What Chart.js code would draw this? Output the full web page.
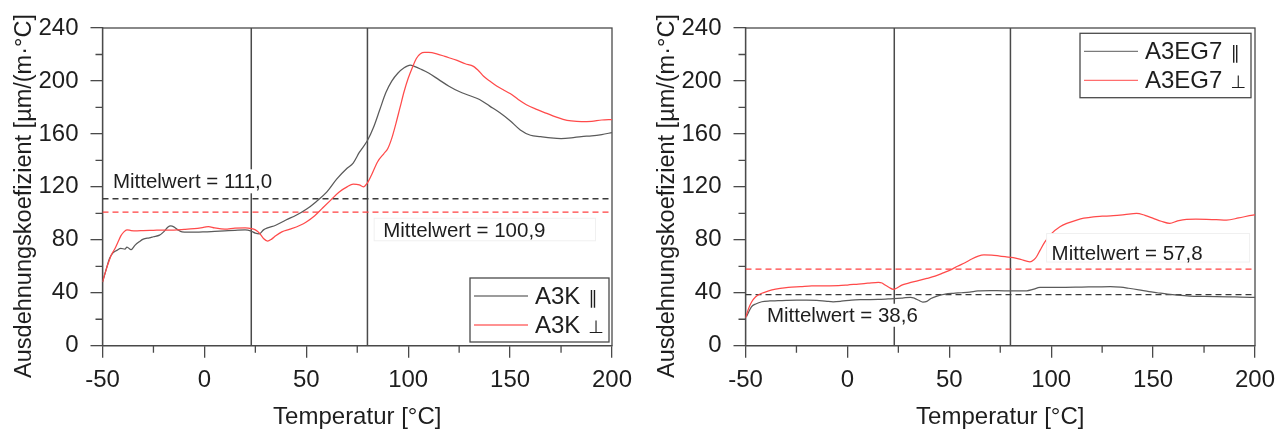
<!DOCTYPE html>
<html>
<head>
<meta charset="utf-8">
<script src="https://cdn.jsdelivr.net/npm/chart.js@4.4.1/dist/chart.umd.min.js"></script>
<style>
  html, body { margin: 0; padding: 0; background: #fff; }
  #wrap { position: relative; width: 1286px; height: 432px; overflow: hidden; }
  canvas { position: absolute; top: 0; }
  #cA3K { left: 0; }
  #cA3EG7 { left: 643px; }
</style>
</head>
<body>
<div id="wrap">
  <canvas id="cA3K" width="643" height="432"></canvas>
  <canvas id="cA3EG7" width="643" height="432"></canvas>
</div>
<script>
// Axis ticks (temperature in °C, expansion coefficient in µm/(m·°C))
const xTicks = [-50, 0, 50, 100, 150, 200];
const xMinorTicks = [-25, 25, 75, 125, 175];
const yTicks = [0, 40, 80, 120, 160, 200, 240];
const yMinorTicks = [20, 60, 100, 140, 180, 220];

// Temperature bounds of the averaging interval
const intervalBounds = [23, 80];

// A3K, parallel
const tA3KPar = [-50, -48.5, -46.5, -45, -43, -41, -39, -38, -36, -34, -32, -30, -27, -25, -22, -20, -18, -16.5, -15, -13, -11, -8, -4, 0, 5, 10, 15, 20, 23, 25, 27, 29, 31, 35, 40, 45, 50, 55, 60, 65, 70, 73, 76, 80, 83, 86, 89, 92, 95, 98, 101, 103, 106, 110, 115, 120, 125, 130, 135, 140, 145, 150, 155, 160, 165, 170, 175, 180, 185, 190, 195, 200];
const a3kPar = [48, 56, 66, 70, 72, 73.5, 73, 74.5, 72.5, 76, 78.5, 80.5, 81.5, 82.3, 83.5, 86, 89.5, 90.5, 89.8, 87.5, 86, 85.8, 85.8, 86, 86.4, 86.8, 87.2, 87.5, 86.5, 85, 84.5, 87.5, 89, 91, 95, 98.5, 103, 109, 116, 126, 134, 138, 146, 155, 165, 178, 191, 200, 206, 210, 212, 211, 209, 206, 201, 196, 192, 189, 186, 181, 176, 170, 163, 159, 158, 157, 156.5, 157, 158, 158.5, 159.5, 161];

// A3K, perpendicular
const tA3KPerp = [-50, -48.5, -47, -45.5, -44, -42.5, -41, -39.5, -38, -36, -33, -30, -25, -20, -15, -10, -5, 0, 2, 5, 10, 15, 20, 23, 25, 27, 29, 31, 33, 35, 38, 42, 47, 50, 54, 58, 62, 66, 70, 73, 76, 78, 80, 82, 85, 88, 90, 92, 94, 96, 98, 100, 102, 104, 106, 108, 110, 114, 118, 124, 128, 132, 135, 137, 140, 143.6, 147, 150, 154, 158, 163, 168, 172, 176, 180, 185, 190, 195, 200];
const a3kPerp = [48, 56, 63, 69, 73, 78, 83, 86, 87.5, 87, 86.8, 87, 87.2, 87.4, 87.4, 87.8, 88.4, 89.5, 90, 89, 88, 88.8, 89, 88.5, 87.5, 85, 81, 79, 80.5, 83, 86, 88, 91, 93.5, 98, 104, 110, 116, 120, 122, 121.5, 120, 123, 129, 139, 145, 149, 157, 168, 180, 192, 202, 210, 217, 220.5, 221.5, 221.5, 220.5, 218.5, 215.5, 213, 211, 207, 203.5, 200, 196, 193, 190.5, 186, 182, 178.5, 175.5, 173, 171, 169.8, 169.2, 169.5, 170.5, 170.8];

// A3EG7, parallel
const tA3EG7Par = [-49.5, -47, -45, -42, -38, -34, -30, -25, -20, -15, -10, -7, -3, 2, 8, 15, 20, 23, 27, 31, 33, 35, 37, 39, 41, 44, 48, 52, 56, 60, 64, 70, 77, 84, 88, 91, 94.5, 100, 107, 115, 122, 129, 134, 138, 143, 148, 152, 157, 162, 168, 175, 181, 190, 199, 200];
const a3eg7Par = [22, 29.5, 31.5, 33.2, 33.8, 34, 34.3, 34.5, 34.5, 34.3, 33.5, 33.2, 33.6, 34.5, 34.8, 35, 35.3, 35.5, 36, 36.6, 35.8, 34.3, 33, 33.5, 35.6, 37.5, 39, 39.6, 40, 40.5, 41.4, 41.6, 41.5, 41.5, 41.5, 42.5, 44, 44.1, 44.1, 44.3, 44.4, 44.6, 44.2, 43.4, 42.2, 40.8, 40, 39, 38.2, 37.5, 37.2, 37, 36.8, 36.6, 36.6];

// A3EG7, perpendicular
const tA3EG7Perp = [-50, -48.5, -47, -45, -42, -39, -37, -33, -29, -23, -17.5, -10, -4.4, 0, 5.4, 10, 15.2, 17, 18.5, 20.5, 22.5, 24.5, 26.7, 30, 34.8, 39, 43, 47, 51.2, 54, 57.7, 61, 64.2, 67, 70.8, 74.8, 77.3, 81.4, 85, 89.6, 91.5, 92.8, 94.5, 96.9, 100, 104.3, 108, 112.5, 116, 120.7, 125, 130.5, 136, 141.9, 146, 150.1, 154, 158.2, 162, 166.4, 171, 176.2, 181, 186, 192, 199, 200];
const a3eg7Perp = [21, 28, 33, 37, 39.6, 41.2, 42.1, 43.3, 44.1, 44.6, 45.1, 45.2, 45.3, 45.8, 46.6, 47.2, 47.9, 47.4, 45.8, 44, 42.6, 43.8, 45.8, 47.3, 49.1, 50.8, 52.6, 55, 57.7, 60, 62.7, 65.5, 67.7, 68.6, 68.5, 67.7, 67.2, 66.5, 65.2, 63.4, 65, 67.2, 72, 78.5, 84.5, 89.9, 92.6, 94.9, 96.3, 97.4, 97.8, 98.2, 99, 100, 98.5, 96.2, 94, 92.4, 94.3, 95.5, 95.6, 95.5, 95.3, 94.9, 96.5, 98.7, 98.8];

// Mean values over the interval [parallel, perpendicular]
const meanA3K = [111.0, 100.9];
const meanA3EG7 = [38.6, 57.8];

// Series names
const namesA3K = ['A3K', 'A3K'];
const namesA3EG7 = ['A3EG7', 'A3EG7'];
const orientationMarks = ['\u2225', '\u22A5'];

const FONT = '"Liberation Sans", Arial, Helvetica, sans-serif';
const GRAY = '#5a5a5a';
const RED = '#ff4a4a';
const AXIS = '#4a4a4a';
const TEXT = '#1e1e1e';

const toPoints = (xs, ys) => xs.map((x, i) => ({ x, y: ys[i] }));
const fmtMean = v => 'Mittelwert = ' + v.toFixed(1).replace('.', ',');

// Extra drawing: minor ticks, frame, mean labels, legend and axis titles
const decoPlugin = {
  id: 'deco',
  beforeDatasetsDraw(chart) {
    const { ctx, chartArea: a, scales: { x, y } } = chart;
    ctx.save();
    ctx.strokeStyle = AXIS;
    ctx.lineWidth = 1.3;
    ctx.beginPath();
    xMinorTicks.forEach(v => {
      const px = x.getPixelForValue(v);
      ctx.moveTo(px, a.bottom);
      ctx.lineTo(px, a.bottom + 7);
    });
    yMinorTicks.forEach(v => {
      const py = y.getPixelForValue(v);
      ctx.moveTo(a.left, py);
      ctx.lineTo(a.left - 7, py);
    });
    ctx.stroke();
    ctx.strokeRect(a.left, a.top, a.right - a.left, a.bottom - a.top);
    ctx.restore();
  },
  afterDatasetsDraw(chart, args, opts) {
    const { ctx, scales: { x, y } } = chart;
    ctx.save();
    ctx.font = '20.5px ' + FONT;
    ctx.textAlign = 'left';
    ctx.textBaseline = 'alphabetic';
    (opts.notes || []).forEach(n => {
      const px = x.getPixelForValue(n.x);
      const py = y.getPixelForValue(n.y);
      const w = ctx.measureText(n.text).width;
      const b = n.box;
      ctx.fillStyle = '#ffffff';
      ctx.fillRect(px - b.l, py - b.t, w + b.l + b.r, b.t + b.b);
      if (b.border) {
        ctx.strokeStyle = b.border;
        ctx.lineWidth = 1;
        ctx.strokeRect(px - b.l, py - b.t, w + b.l + b.r, b.t + b.b);
      }
      ctx.fillStyle = TEXT;
      ctx.fillText(n.text, px, py);
    });
    ctx.restore();
  },
  afterDraw(chart, args, opts) {
    const { ctx, chartArea: a } = chart;
    ctx.save();
    // legend
    const lg = opts.legend;
    if (lg) {
      ctx.fillStyle = '#ffffff';
      ctx.fillRect(lg.left, lg.top, lg.width, lg.height);
      ctx.strokeStyle = AXIS;
      ctx.lineWidth = 1.3;
      ctx.strokeRect(lg.left, lg.top, lg.width, lg.height);
      lg.items.forEach((it, i) => {
        const cy = lg.top + 18 + i * 29;
        ctx.strokeStyle = it.color;
        ctx.globalAlpha = 0.8;
        ctx.lineWidth = 1.3;
        ctx.beginPath();
        ctx.moveTo(lg.left + 4, cy);
        ctx.lineTo(lg.left + 58, cy);
        ctx.stroke();
        ctx.globalAlpha = 1;
        ctx.fillStyle = TEXT;
        ctx.textAlign = 'left';
        ctx.textBaseline = 'alphabetic';
        ctx.font = '24px ' + FONT;
        ctx.fillText(it.name, lg.left + 65, cy + 8);
        const tw = ctx.measureText(it.name).width;
        ctx.font = '18px "DejaVu Sans", ' + FONT;
        ctx.fillText(it.mark, lg.left + 65 + tw + 8, cy + 7.5);
      });
    }
    // axis titles
    ctx.fillStyle = TEXT;
    ctx.font = '24px ' + FONT;
    ctx.textAlign = 'center';
    ctx.textBaseline = 'alphabetic';
    ctx.fillText('Temperatur [°C]', (a.left + a.right) / 2, 424);
    ctx.translate(31, 196);
    ctx.rotate(-Math.PI / 2);
    ctx.font = '23.5px ' + FONT;
    ctx.fillText('Ausdehnungskoefizient [µm/(m·°C]', 0, 0);
    ctx.restore();
  }
};

function buildChart(canvasId, tPar, yPar, tPerp, yPerp, means, names, notes, legend) {
  const lineDs = (data, color, width, dash, order, tension) => ({
    data, borderColor: color, borderWidth: width, borderDash: dash || [],
    pointRadius: 0, tension: tension || 0, cubicInterpolationMode: 'monotone', fill: false, order
  });
  const xMin = xTicks[0], xMax = xTicks[xTicks.length - 1];
  const yMin = yTicks[0], yMax = yTicks[yTicks.length - 1];
  const datasets = [
    lineDs(toPoints(tPerp, yPerp), RED, 1.25, null, 1, 0.4),
    lineDs(toPoints(tPar, yPar), GRAY, 1.25, null, 2, 0.4),
    lineDs([{ x: xMin, y: means[0] }, { x: xMax, y: means[0] }], '#3a3a3a', 1.3, [6, 4], 3),
    lineDs([{ x: xMin, y: means[1] }, { x: xMax, y: means[1] }], '#ff4040', 1.3, [6, 4], 4),
    ...intervalBounds.map((b, i) => lineDs([{ x: b, y: yMin }, { x: b, y: yMax }], AXIS, 1.5, null, 5 + i))
  ];
  return new Chart(document.getElementById(canvasId), {
    type: 'line',
    data: { datasets },
    options: {
      responsive: false,
      animation: false,
      devicePixelRatio: 1,
      layout: { padding: { left: 0, top: 28, right: 31, bottom: 0 } },
      plugins: {
        legend: { display: false },
        tooltip: { enabled: false },
        deco: { notes, legend }
      },
      scales: {
        x: {
          type: 'linear', min: xMin, max: xMax,
          afterBuildTicks: s => { s.ticks = xTicks.map(v => ({ value: v })); },
          afterFit: s => { s.height = 86.3; },
          ticks: { color: TEXT, font: { size: 24, family: FONT }, padding: 8, maxRotation: 0, autoSkip: false },
          grid: { drawOnChartArea: false, drawTicks: true, tickLength: 12, color: AXIS, lineWidth: 1.3 },
          border: { display: true, color: AXIS, width: 1.3 }
        },
        y: {
          type: 'linear', min: yMin, max: yMax,
          afterBuildTicks: s => { s.ticks = yTicks.map(v => ({ value: v })); },
          afterFit: s => { s.width = 102.5; },
          ticks: { color: TEXT, font: { size: 24, family: FONT }, padding: 12, autoSkip: false },
          grid: { drawOnChartArea: false, drawTicks: true, tickLength: 12, color: AXIS, lineWidth: 1.3 },
          border: { display: true, color: AXIS, width: 1.3 }
        }
      }
    },
    plugins: [decoPlugin]
  });
}

buildChart('cA3K', tA3KPar, a3kPar, tA3KPerp, a3kPerp, meanA3K, namesA3K,
  [
    { text: fmtMean(meanA3K[0]), x: -44.9, y: 118.9, box: { l: 5, r: 3, t: 19, b: 5 } },
    { text: fmtMean(meanA3K[1]), x: 87.7, y: 82.3, box: { l: 9, r: 50, t: 18.5, b: 4, border: '#f0f0f0' } }
  ],
  { left: 470, top: 278, width: 139, height: 64,
    items: [{ name: namesA3K[0], mark: orientationMarks[0], color: GRAY },
            { name: namesA3K[1], mark: orientationMarks[1], color: RED }] });

buildChart('cA3EG7', tA3EG7Par, a3eg7Par, tA3EG7Perp, a3eg7Perp, meanA3EG7, namesA3EG7,
  [
    { text: fmtMean(meanA3EG7[0]), x: -39.5, y: 18.1, box: { l: 5, r: 5, t: 18, b: 5 } },
    { text: fmtMean(meanA3EG7[1]), x: 100.2, y: 64.7, box: { l: 5, r: 47, t: 26.5, b: 2, border: '#f0f0f0' } }
  ],
  { left: 437, top: 33.3, width: 171, height: 64.4,
    items: [{ name: namesA3EG7[0], mark: orientationMarks[0], color: GRAY },
            { name: namesA3EG7[1], mark: orientationMarks[1], color: RED }] });
</script>
</body>
</html>
